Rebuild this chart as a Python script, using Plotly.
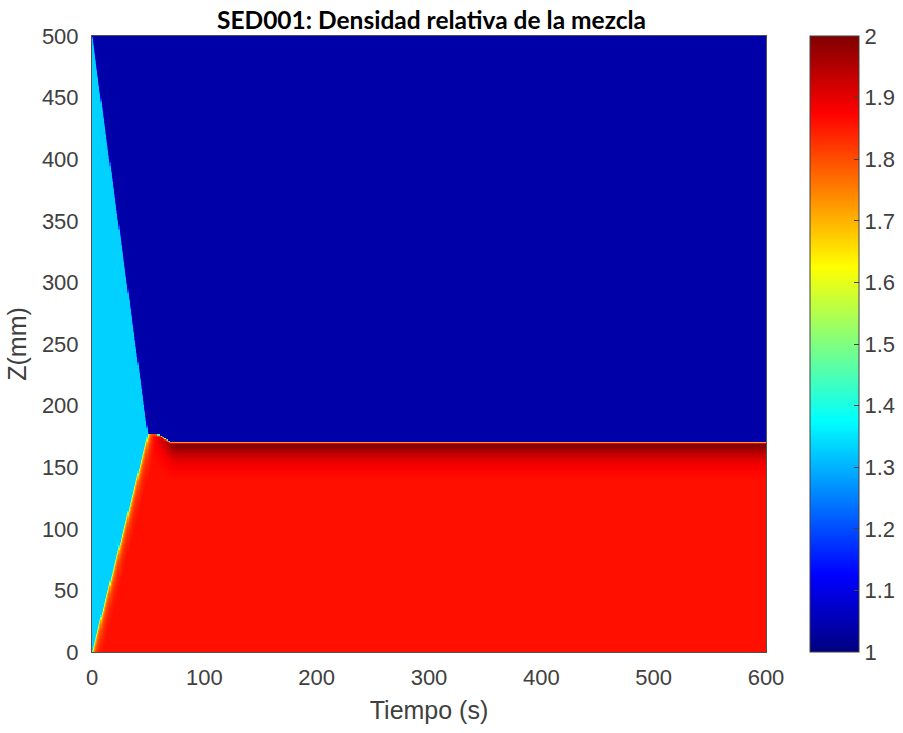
import numpy as np
import plotly.graph_objects as go

# Simulation grid: time (s) and height above the bottom (mm)
tiempo = np.arange(0, 601, 1.0)
altura = np.arange(0, 501, 1.0)

# Relative density of each zone
rho_agua = 1.04   # clarified liquid above the suspension
rho_susp = 1.33   # initial suspension
rho_sed = 1.86    # bulk sediment

# Clear-liquid / suspension interface (falls from the top)
t_sup = [0, 50]
z_sup = [500, 177]

# Sediment surface: rising front, then the final bed level
t_lecho = [0, 50, 56, 62, 66, 70, 600]
z_lecho = [0, 176.5, 176.5, 175.5, 172.5, 170.5, 170.5]

# Density vs. depth below the bed surface once it has settled
prof_mm = [0, 0.9, 1.6, 3, 6, 12, 18, 25, 32]
prof_rho = [1.70, 1.72, 1.97, 2.00, 1.97, 1.92, 1.89, 1.87, 1.86]

# Density just behind the rising front vs. time since it passed (s)
edad_s = [0, 1, 3, 6, 10]
edad_rho = [1.60, 1.72, 1.80, 1.84, 1.86]

# Time window over which the dense top layer forms
t_cons = [52, 75]

# Sub-samples per cell (time, height) used to average each grid cell
SUB_T, SUB_Z = 4, 2


def densidad_en(T, Z):
    zb = np.interp(T, t_lecho, z_lecho)
    zs = np.where(T <= t_sup[-1], np.interp(T, t_sup, z_sup), zb)

    rho = np.full(T.shape, rho_agua)
    rho[(Z > zb) & (Z <= zs)] = rho_susp

    sed = Z <= zb
    t_frente = np.interp(Z, z_lecho[:2], t_lecho[:2])
    edad = np.clip(T - t_frente, 0, None)
    base = np.interp(edad, edad_s, edad_rho)
    capa = np.interp(zb - Z, prof_mm, prof_rho) - rho_sed
    peso = np.clip((T - t_cons[0]) / (t_cons[1] - t_cons[0]), 0, 1)
    rho[sed] = (base + capa * peso)[sed]
    return rho


def campo_densidad():
    dt = (np.arange(SUB_T) + 0.5) / SUB_T - 0.5
    dz = (np.arange(SUB_Z) + 0.5) / SUB_Z - 0.5
    acc = np.zeros((altura.size, tiempo.size))
    for a in dt:
        for b in dz:
            T, Z = np.meshgrid(tiempo + a, altura + b)
            acc += densidad_en(T, Z)
    return np.round(acc / (SUB_T * SUB_Z), 3)


densidad = campo_densidad()

# MATLAB-style jet colormap
jet = [
    [0.0, "rgb(0,0,128)"],
    [0.125, "rgb(0,0,255)"],
    [0.375, "rgb(0,255,255)"],
    [0.625, "rgb(255,255,0)"],
    [0.875, "rgb(255,0,0)"],
    [1.0, "rgb(128,0,0)"],
]

txt = "#404040"
familia = "Liberation Sans, Arial, sans-serif"
font_ticks = dict(family=familia, size=22, color=txt)
font_label = dict(family=familia, size=25, color=txt)

fig = go.Figure(
    go.Heatmap(
        x=tiempo,
        y=altura,
        z=densidad,
        colorscale=jet,
        zmin=1,
        zmax=2,
        zsmooth=False,
        colorbar=dict(
            x=1.0653,
            xanchor="left",
            y=0.5,
            yanchor="middle",
            len=1.0,
            lenmode="fraction",
            thickness=49,
            thicknessmode="pixels",
            outlinewidth=1,
            outlinecolor="#404040",
            tickmode="array",
            tickvals=[1, 1.1, 1.2, 1.3, 1.4, 1.5, 1.6, 1.7, 1.8, 1.9, 2],
            ticktext=["1", "1.1", "1.2", "1.3", "1.4", "1.5", "1.6", "1.7", "1.8", "1.9", "2"],
            ticks="inside",
            ticklen=5,
            tickcolor="#404040",
            tickfont=font_ticks,
            ticklabelposition="outside",
            xpad=0,
            ypad=0,
        ),
    )
)

fig.update_xaxes(
    range=[0, 600],
    tickmode="array",
    tickvals=[0, 100, 200, 300, 400, 500, 600],
    tickfont=font_ticks,
    showgrid=False,
    zeroline=False,
    showline=True,
    mirror=True,
    linecolor="#505050",
    linewidth=1,
    ticks="",
    ticklabelstandoff=6,
    title=dict(text="Tiempo (s)", font=font_label, standoff=12),
)
fig.update_yaxes(
    range=[0, 500],
    tickmode="array",
    tickvals=list(range(0, 501, 50)),
    tickfont=font_ticks,
    showgrid=False,
    zeroline=False,
    showline=True,
    mirror=True,
    linecolor="#505050",
    linewidth=1,
    ticks="",
    ticklabelstandoff=8,
    title=dict(text="Z(mm)", font=font_label, standoff=8),
)

fig.add_annotation(
    text="<b>SED001: Densidad relativa de la mezcla</b>",
    xref="paper",
    yref="paper",
    x=0.503,
    y=1,
    yanchor="bottom",
    xanchor="center",
    showarrow=False,
    font=dict(family="Lato, Carlito, sans-serif", size=24.5, color="#000000"),
)

fig.update_layout(
    width=903,
    height=733,
    margin=dict(l=92, r=137, t=36, b=81, autoexpand=False),
    paper_bgcolor="white",
    plot_bgcolor="white",
    showlegend=False,
)

fig.write_html("out.html")
